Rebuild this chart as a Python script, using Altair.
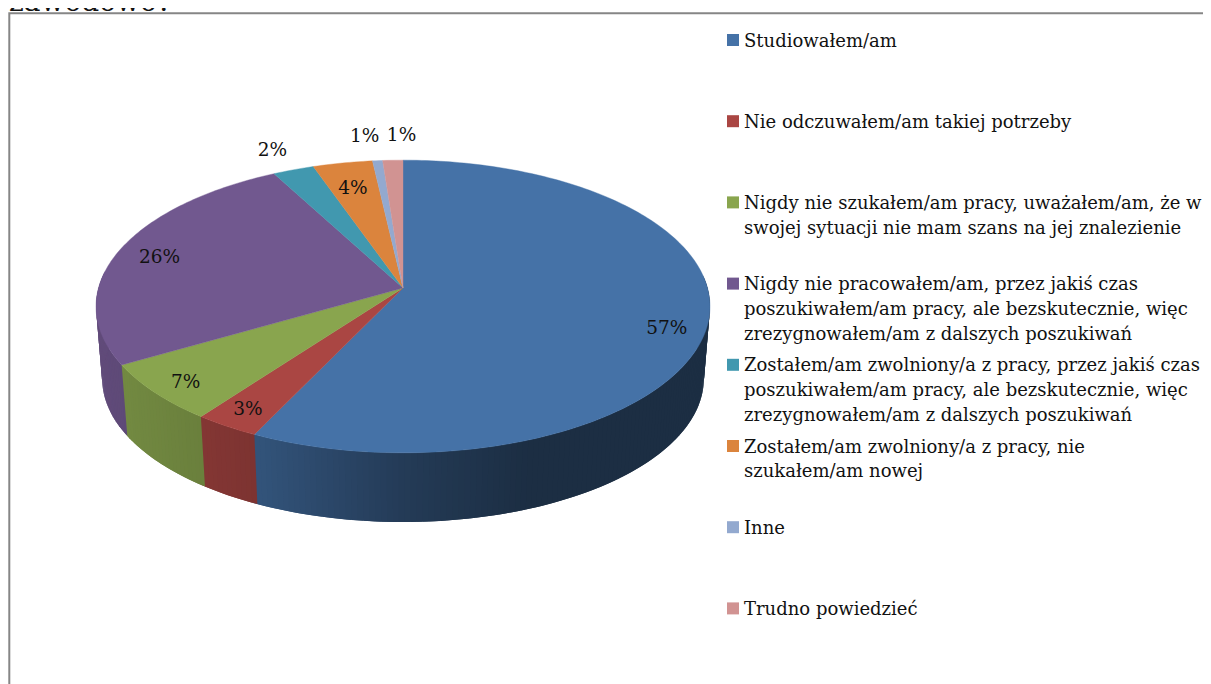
import math
import numpy as np
import altair as alt

# ---- data ----
categories = [
    ["Studiowałem/am"],
    ["Nie odczuwałem/am takiej potrzeby"],
    ["Nigdy nie szukałem/am pracy, uważałem/am, że w", "swojej sytuacji nie mam szans na jej znalezienie"],
    ["Nigdy nie pracowałem/am, przez jakiś czas", "poszukiwałem/am pracy, ale bezskutecznie, więc", "zrezygnowałem/am z dalszych poszukiwań"],
    ["Zostałem/am zwolniony/a z pracy, przez jakiś czas", "poszukiwałem/am pracy, ale bezskutecznie, więc", "zrezygnowałem/am z dalszych poszukiwań"],
    ["Zostałem/am zwolniony/a z pracy, nie", "szukałem/am nowej"],
    ["Inne"],
    ["Trudno powiedzieć"],
]
values = [57.12, 3.05, 6.48, 25.55, 2.45, 3.55, 0.6, 1.2]
percent_labels = ["57%", "3%", "7%", "26%", "2%", "4%", "1%", "1%"]

# ---- styles ----
colors = ["#4572A7", "#AA4643", "#89A54E", "#71588F", "#4198AF", "#DB843D", "#93A9CF", "#D19392"]
FONT = "DejaVu Serif"
FS = 18
FS_PCT = 18.5
label_radius = [0.879, 0.89, 0.892, 0.85, 1.192, 0.779, 1.226, 1.227]
label_turn = [5, 0, -0.6, -1, -0.5, -0.5, -1.4, 1.9]
W, H = 1195, 676
APEX = (395, 280)        # centre of the pie on the canvas
A, B, K = 304.5, 144.0, 0.1263   # perspective of the disc
DEPTH, SHRINK = 72.5, 0.98
shade_x = [-303, -145, 0, 127]
shade_f = [0.85, 0.73, 0.52, 0.40]


def rim(deg, s=1.0, dy=0.0, r=1.0):
    t = math.radians(deg)
    u, v = r * math.sin(t), r * math.cos(t)
    d = 1 + K * v
    return [s * A * u / d, s * B * v / d - dy]


def shade(hex_color, f):
    rgb = [int(hex_color[i:i + 2], 16) for i in (1, 3, 5)]
    return "#" + "".join(f"{int(round(c * f)):02x}" for c in rgb)


total = sum(values)
edges = np.cumsum([0] + values) / total * 360.0

tops, sides, labels = [], [], []
for i, col in enumerate(colors):
    a0, a1 = float(edges[i]), float(edges[i + 1])
    n = max(2, int((a1 - a0) / 1.0) + 1)
    angs = np.linspace(a0, a1, n + 1)
    ring = [[0.0, 0.0]] + [rim(float(a)) for a in angs] + [[0.0, 0.0]]
    tops.append({"type": "Feature", "properties": {"fill": col},
                 "geometry": {"type": "Polygon", "coordinates": [ring]}})
    for p, q in zip(angs[:-1], angs[1:]):
        p, q = float(p), float(q)
        if q < 85 or p > 275:
            continue
        m = rim((p + q) / 2)[0]
        c = shade(col, float(np.interp(m, shade_x, shade_f)))
        e = q + 1.0   # overlap into the next strip, which paints over it: no seams
        poly = [rim(p), rim(e), rim(e, SHRINK, DEPTH), rim(p, SHRINK, DEPTH), rim(p)]
        sides.append({"type": "Feature", "properties": {"fill": c},
                      "geometry": {"type": "Polygon", "coordinates": [poly]}})
    lon, lat = rim((a0 + a1) / 2 + label_turn[i], r=label_radius[i])
    labels.append({"lon": lon, "lat": lat, "text": percent_labels[i]})

squares, legend_text = [], []
for i, lines in enumerate(categories):
    y = 32 + 81.2 * i
    squares.append({"x": 725, "y": y, "fill": colors[i]})
    for j, line in enumerate(lines):
        legend_text.append({"x": 736, "y": y + 6.5 + 24.8 * j, "text": line})

proj = dict(type="identity", scale=1, translate=list(APEX), reflectY=True)


def X(f):
    return alt.X(f + ":Q", scale=None)


def Y(f):
    return alt.Y(f + ":Q", scale=None)


frame = alt.Chart(alt.Data(values=[{"x": 1.3, "y": 5.3, "x2": 1500, "y2": 1000}])).mark_rect(
    fill="white", stroke="#868686", strokeWidth=2, clip=False
).encode(x=X("x"), y=Y("y"), x2="x2:Q", y2="y2:Q")

side_layer = alt.Chart(alt.Data(values=sides)).mark_geoshape(strokeWidth=0).encode(
    fill=alt.Fill("properties.fill:N", scale=None),
).project(**proj)

top_layer = alt.Chart(alt.Data(values=tops)).mark_geoshape(strokeWidth=0.4).encode(
    fill=alt.Fill("properties.fill:N", scale=None),
    stroke=alt.Stroke("properties.fill:N", scale=None),
).project(**proj)

pct = alt.Chart(alt.Data(values=labels)).mark_text(
    font=FONT, fontSize=FS_PCT, color="#111111", align="center", baseline="middle"
).encode(longitude="lon:Q", latitude="lat:Q", text="text:N").project(**proj)

leg_sq = alt.Chart(alt.Data(values=squares)).mark_square(size=144, opacity=1).encode(
    x=X("x"), y=Y("y"), fill=alt.Fill("fill:N", scale=None)
)

leg_tx = alt.Chart(alt.Data(values=legend_text)).mark_text(
    font=FONT, fontSize=FS, color="#111111", align="left", baseline="alphabetic"
).encode(x=X("x"), y=Y("y"), text="text:N")

cut_title = alt.Chart(alt.Data(values=[{"x": 1, "y": 3, "text": "zawodowo?"}])).mark_text(
    font=FONT, fontSize=28, color="#111111", align="left", baseline="alphabetic", clip=False
).encode(x=X("x"), y=Y("y"), text="text:N")

chart = alt.layer(frame, side_layer, top_layer, pct, leg_sq, leg_tx, cut_title).properties(
    width=W, height=H, padding=0, autosize=alt.AutoSizeParams(type="none"), background="white"
).configure_view(stroke=None)

chart.save("out.html", embed_options={"renderer": "svg", "actions": False})
